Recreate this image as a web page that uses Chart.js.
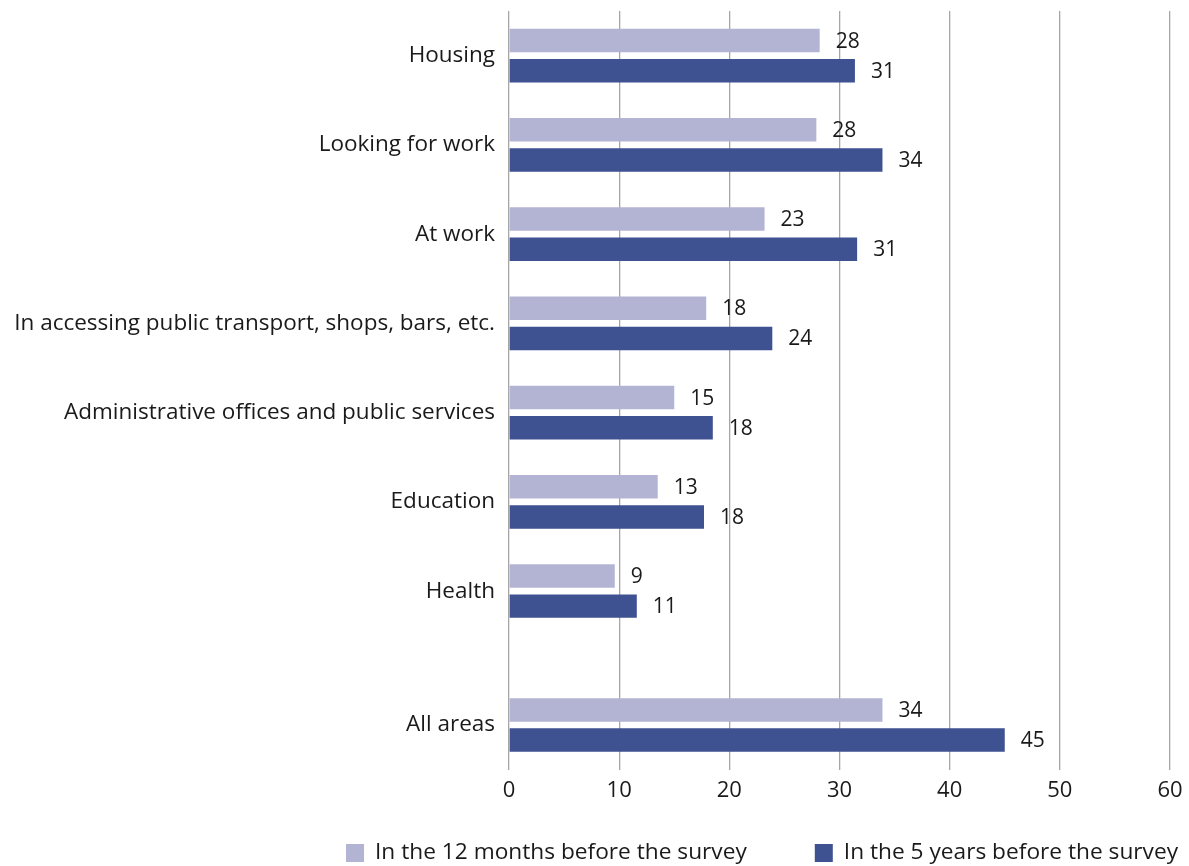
<!DOCTYPE html>
<html>
<head>
<meta charset="utf-8">
<script src="https://cdn.jsdelivr.net/npm/chart.js@4"></script>
<style>
  html, body { margin: 0; padding: 0; background: #fff; }
  #wrap { width: 1189px; height: 866px; position: relative; }
</style>
</head>
<body>
<div id="wrap"><canvas id="chart"></canvas></div>
<script>
// Datos
const categories = ['Housing', 'Looking for work', 'At work', 'In accessing public transport, shops, bars, etc.', 'Administrative offices and public services', 'Education', 'Health', 'All areas'];
const months12 = [28.2, 27.9, 23.2, 17.9, 15.0, 13.5, 9.6, 33.9];
const years5 = [31.4, 33.9, 31.6, 23.9, 18.5, 17.7, 11.6, 45.0];
const labels12 = [28, 28, 23, 18, 15, 13, 9, 34];
const labels5 = [31, 34, 31, 24, 18, 18, 11, 45];
const seriesNames = ['In the 12 months before the survey', 'In the 5 years before the survey'];
const seriesColors = ['#b3b4d4', '#3e5191'];
const xTicks = [0, 10, 20, 30, 40, 50, 60];

const FONT = '"Open Sans", "Noto Sans", sans-serif';
const TEXT = '#1a1a1a';

// Filas en medios pasos: hueco extra antes de "All areas"
const slots = [''];
const slotIndex = [];
categories.forEach((c, i) => {
    if (i === categories.length - 1) slots.push('');
    slotIndex.push(slots.length);
    slots.push(c);
    slots.push('');
});

function toSlots(values){
    const arr = slots.map(() => null);
    values.forEach((v, i) => arr[slotIndex[i]] = v);
    return arr;
}

const valueLabels = [toSlots(labels12), toSlots(labels5)];

// Etiquetas al final de cada barra
const barLabels = {
    id: 'barLabels',
    afterDatasetsDraw(chart){
        const ctx = chart.ctx;
        ctx.save();
        ctx.font = '21px ' + FONT;
        ctx.fillStyle = TEXT;
        ctx.textAlign = 'left';
        ctx.textBaseline = 'middle';
        chart.data.datasets.forEach((ds, di) => {
            const meta = chart.getDatasetMeta(di);
            meta.data.forEach((bar, i) => {
                const txt = valueLabels[di][i];
                if (txt === null) return;
                ctx.fillText(String(txt), bar.x + 16, bar.y + 1);
            });
        });
        ctx.restore();
    }
};

// Leyenda abajo, alineada a la derecha con hueco amplio entre entradas
const bottomLegend = {
    id: 'bottomLegend',
    afterDraw(chart){
        const ctx = chart.ctx;
        ctx.save();
        ctx.font = '22.7px ' + FONT;
        ctx.textBaseline = 'middle';
        ctx.textAlign = 'left';
        const y = 853, box = 18, gapText = 11, gapItem = 68;
        let x = 1178;
        for (let i = chart.data.datasets.length - 1; i >= 0; i--) {
            const ds = chart.data.datasets[i];
            const w = ctx.measureText(ds.label).width;
            const tx = x - w;
            ctx.fillStyle = TEXT;
            ctx.fillText(ds.label, tx, y);
            ctx.fillStyle = ds.backgroundColor;
            ctx.fillRect(tx - gapText - box, y - box / 2, box, box);
            x = tx - gapText - box - gapItem;
        }
        ctx.restore();
    }
};

new Chart(document.getElementById('chart').getContext('2d'), {
    type: 'bar',
    data: {
        labels: slots,
        datasets: [{
            label: seriesNames[0],
            data: toSlots(months12),
            backgroundColor: seriesColors[0]
        }, {
            label: seriesNames[1],
            data: toSlots(years5),
            backgroundColor: seriesColors[1]
        }]
    },
    options: {
        indexAxis: 'y',
        responsive: true,
        maintainAspectRatio: false,
        animation: false,
        categoryPercentage: 1.348,
        barPercentage: 0.78,
        layout: { padding: { top: 11, right: 19, left: 0, bottom: 54 } },
        scales: {
            x: {
                min: 0,
                max: 60,
                afterBuildTicks(scale){ scale.ticks = xTicks.map(v => ({ value: v })); },
                afterFit(scale){ scale.paddingRight = 0; scale.paddingLeft = 0; },
                grid: { color: '#a6a6a6', lineWidth: 1.3, drawTicks: false },
                border: { display: false },
                ticks: { color: TEXT, font: { family: FONT, size: 22 }, padding: 8 }
            },
            y: {
                offset: false,
                grid: { display: false },
                border: { display: false },
                afterFit(scale){ scale.width = 509; scale.paddingTop = 0; scale.paddingBottom = 0; },
                ticks: { autoSkip: false, color: TEXT, font: { family: FONT, size: 22.5 }, padding: 6 }
            }
        },
        plugins: {
            legend: { display: false },
            tooltip: { enabled: false }
        }
    },
    plugins: [barLabels, bottomLegend]
});
</script>
</body>
</html>
